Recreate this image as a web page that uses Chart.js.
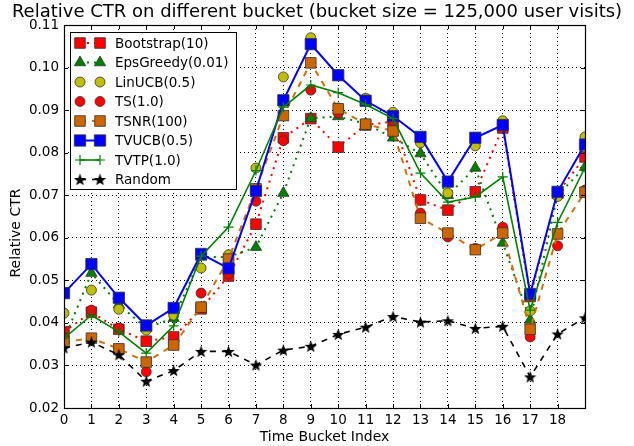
<!DOCTYPE html>
<html>
<head>
<meta charset="utf-8">
<script src="https://cdn.jsdelivr.net/npm/chart.js@4.4.1/dist/chart.umd.min.js"></script>
<style>
  html, body { margin: 0; padding: 0; background: #fff; }
</style>
</head>
<body>
<canvas id="ctr-chart" width="634" height="446"></canvas>
<script>
// bucket index 0..19
const buckets = [0, 1, 2, 3, 4, 5, 6, 7, 8, 9, 10, 11, 12, 13, 14, 15, 16, 17, 18, 19];
const yTicks = [0.02, 0.03, 0.04, 0.05, 0.06, 0.07, 0.08, 0.09, 0.10, 0.11];

const bootstrap = [0.0379, 0.0425, 0.0385, 0.0357, 0.0367, 0.0433, 0.0510, 0.0632, 0.0835, 0.0880, 0.0813, 0.0865, 0.0873, 0.0689, 0.0665, 0.0708, 0.0858, 0.0462, 0.0705, 0.0790];
const epsGreedy = [0.0360, 0.0517, 0.0443, 0.0388, 0.0411, 0.0555, 0.0555, 0.0578, 0.0705, 0.0881, 0.0885, 0.0868, 0.0835, 0.0798, 0.0700, 0.0764, 0.0588, 0.0407, 0.0700, 0.0766];
const linUcb = [0.0423, 0.0477, 0.0432, 0.0383, 0.0418, 0.0529, 0.0560, 0.0764, 0.0978, 0.1070, 0.0905, 0.0928, 0.0895, 0.0823, 0.0705, 0.0816, 0.0875, 0.0428, 0.0697, 0.0837];
const ts = [0.0365, 0.0430, 0.0388, 0.0285, 0.0348, 0.0470, 0.0515, 0.0686, 0.0828, 0.0947, 0.0893, 0.0865, 0.0875, 0.0658, 0.0602, 0.0575, 0.0625, 0.0367, 0.0581, 0.0712];
const tsnr = [0.0355, 0.0364, 0.0339, 0.0308, 0.0348, 0.0437, 0.0550, 0.0715, 0.0887, 0.1011, 0.0903, 0.0867, 0.0851, 0.0646, 0.0611, 0.0572, 0.0611, 0.0385, 0.0609, 0.0707];
const tvucb = [0.0470, 0.0538, 0.0459, 0.0394, 0.0435, 0.0562, 0.0528, 0.0710, 0.0923, 0.1055, 0.0982, 0.0922, 0.0886, 0.0837, 0.0732, 0.0835, 0.0865, 0.0468, 0.0708, 0.0819];
const tvtp = [0.0364, 0.0418, 0.0379, 0.0329, 0.0393, 0.0557, 0.0625, 0.0758, 0.0907, 0.0959, 0.0941, 0.0913, 0.0880, 0.0752, 0.0684, 0.0696, 0.0743, 0.0430, 0.0636, 0.0765];
const random = [0.0341, 0.0355, 0.0325, 0.0263, 0.0288, 0.0333, 0.0333, 0.0301, 0.0336, 0.0345, 0.0373, 0.0390, 0.0415, 0.0402, 0.0405, 0.0387, 0.0392, 0.0273, 0.0374, 0.0412];

const FONT = 'DejaVu Sans';

function makeStar(size, color) {
    const c = document.createElement('canvas');
    c.width = size;
    c.height = size;
    const g = c.getContext('2d');
    const cx = size / 2, cy = size / 2 + 0.6, R = size / 2, r = R * 0.42;
    g.beginPath();
    for (let i = 0; i < 10; i++) {
        const rad = i % 2 ? r : R;
        const a = -Math.PI / 2 + i * Math.PI / 5;
        g.lineTo(cx + rad * Math.cos(a), cy + rad * Math.sin(a));
    }
    g.closePath();
    g.fillStyle = color;
    g.fill();
    return c;
}
const star = makeStar(13, '#000');

function toPoints(values) {
    return values.map((v, i) => ({ x: buckets[i], y: v }));
}

function series(label, values, o) {
    return {
        label: label,
        data: toPoints(values),
        borderColor: o.line || 'transparent',
        borderWidth: o.lineWidth || 0,
        borderDash: o.dash || [],
        showLine: !!o.line,
        pointStyle: o.style,
        pointRadius: o.radius,
        pointHoverRadius: o.radius,
        pointBackgroundColor: o.fill,
        pointBorderColor: o.edge || '#333',
        pointBorderWidth: o.edgeWidth === undefined ? 0.8 : o.edgeWidth,
        order: o.order,
        clip: 0,
        tension: 0
    };
}

const datasets = [
    series('Bootstrap(10)', bootstrap, { line: '#ff0000', lineWidth: 2, dash: [2, 5], style: 'rect', radius: 7.5, fill: '#ff0000', order: 8 }),
    series('EpsGreedy(0.01)', epsGreedy, { line: '#008000', lineWidth: 2, dash: [2, 5], style: 'triangle', radius: 6.5, fill: '#007f00', order: 7 }),
    series('LinUCB(0.5)', linUcb, { style: 'circle', radius: 5, fill: '#bfbf00', order: 6 }),
    series('TS(1.0)', ts, { style: 'circle', radius: 5, fill: '#ff0000', order: 5 }),
    series('TSNR(100)', tsnr, { line: '#d0700a', lineWidth: 2, dash: [6, 6], style: 'rect', radius: 7.5, fill: '#cc6600', order: 4 }),
    series('TVUCB(0.5)', tvucb, { line: '#0000ff', lineWidth: 2, style: 'rect', radius: 8, fill: '#0000ff', order: 3 }),
    series('TVTP(1.0)', tvtp, { line: '#008000', lineWidth: 1.6, style: 'cross', radius: 5, fill: '#008000', edge: '#008000', edgeWidth: 1.2, order: 2 }),
    series('Random', random, { line: '#000', lineWidth: 1.6, dash: [6, 6], style: star, radius: 6, fill: '#000', order: 1 })
];

const framePlugin = {
    id: 'frame',
    afterDatasetsDraw(chart) {
        const ctx = chart.ctx;
        const a = chart.chartArea;
        const xs = chart.scales.x, ys = chart.scales.y;
        ctx.save();
        ctx.strokeStyle = '#000';
        ctx.lineWidth = 1;
        ctx.beginPath();
        buckets.forEach(b => {
            const px = Math.round(xs.getPixelForValue(b)) + 0.5;
            ctx.moveTo(px, a.top); ctx.lineTo(px, a.top + 4);
            ctx.moveTo(px, a.bottom); ctx.lineTo(px, a.bottom - 4);
        });
        yTicks.forEach(t => {
            const py = Math.round(ys.getPixelForValue(t)) + 0.5;
            ctx.moveTo(a.left, py); ctx.lineTo(a.left + 4, py);
            ctx.moveTo(a.right, py); ctx.lineTo(a.right - 4, py);
        });
        ctx.stroke();
        ctx.lineWidth = 1.2;
        ctx.strokeRect(Math.round(a.left) + 0.5, Math.round(a.top) + 0.5, Math.round(a.right - a.left), Math.round(a.bottom - a.top));

        // legend box inside the plot
        const bx = 70.5, by = 32.5, bw = 166, bh = 157;
        ctx.fillStyle = '#fff';
        ctx.fillRect(bx, by, bw, bh);
        ctx.lineWidth = 1;
        ctx.strokeStyle = '#000';
        ctx.strokeRect(bx, by, bw, bh);
        ctx.font = '13.5px "' + FONT + '"';
        ctx.textBaseline = 'middle';
        ctx.textAlign = 'left';
        datasets.forEach((ds, i) => {
            const y = 43 + i * 19.5;
            if (ds.showLine) {
                ctx.save();
                ctx.strokeStyle = ds.borderColor;
                ctx.lineWidth = ds.borderWidth;
                ctx.setLineDash(ds.borderDash);
                ctx.beginPath();
                ctx.moveTo(80, y); ctx.lineTo(100, y);
                ctx.stroke();
                ctx.restore();
            }
            [80, 100].forEach(mx => {
                ctx.save();
                ctx.fillStyle = ds.pointBackgroundColor;
                ctx.strokeStyle = ds.pointBorderColor;
                ctx.lineWidth = ds.pointBorderWidth;
                Chart.helpers.drawPoint(ctx, {
                    pointStyle: ds.pointStyle,
                    radius: ds.pointRadius,
                    rotation: 0,
                    borderWidth: ds.pointBorderWidth
                }, mx, y);
                ctx.restore();
            });
            ctx.fillStyle = '#000';
            ctx.fillText(ds.label, 115, y + 1);
        });

        // title and axis labels
        ctx.fillStyle = '#000';
        ctx.font = '18px "' + FONT + '"';
        ctx.textAlign = 'center';
        ctx.textBaseline = 'middle';
        ctx.fillText('Relative CTR on different bucket (bucket size = 125,000 user visits)', 317, 12);
        ctx.font = '14px "' + FONT + '"';
        ctx.fillText('Time Bucket Index', (a.left + a.right) / 2, 437);
        ctx.translate(16, 233);
        ctx.rotate(-Math.PI / 2);
        ctx.fillText('Relative CTR', 0, 0);
        ctx.restore();
    }
};

new Chart(document.getElementById('ctr-chart'), {
    type: 'line',
    data: { datasets: datasets },
    options: {
        responsive: false,
        animation: false,
        devicePixelRatio: 1,
        layout: { padding: { top: 25, right: 49, left: 0, bottom: 0 } },
        plugins: {
            legend: { display: false },
            title: { display: false },
            tooltip: { enabled: false }
        },
        scales: {
            x: {
                type: 'linear',
                min: 0,
                max: 19,
                afterFit: s => { s.height = 38; },
                ticks: {
                    stepSize: 1,
                    padding: 4,
                    color: '#000',
                    font: { family: FONT, size: 13.5 },
                    maxRotation: 0,
                    callback: v => (v === 19 ? '' : v)
                },
                grid: { color: '#000', lineWidth: 1, drawTicks: false },
                border: { display: false, dash: [1, 3] }
            },
            y: {
                min: 0.02,
                max: 0.11,
                afterFit: s => { s.width = 64; },
                afterBuildTicks: s => { s.ticks = yTicks.map(v => ({ value: v })); },
                ticks: {
                    padding: 5,
                    color: '#000',
                    font: { family: FONT, size: 13.5 },
                    callback: v => Number(v).toFixed(2)
                },
                grid: { color: '#000', lineWidth: 1, drawTicks: false },
                border: { display: false, dash: [1, 3] }
            }
        }
    },
    plugins: [framePlugin]
});
</script>
</body>
</html>
